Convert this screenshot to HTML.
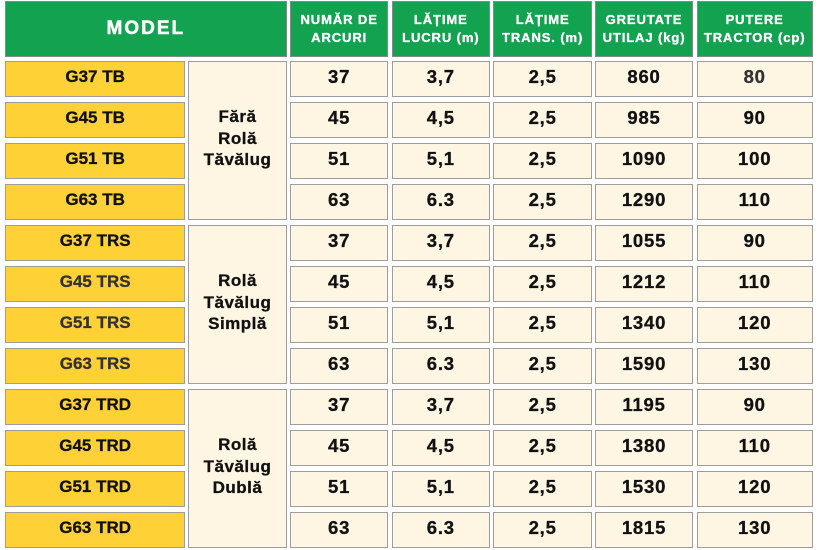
<!DOCTYPE html>
<html><head><meta charset="utf-8">
<style>
html,body{margin:0;padding:0;background:#fff;}
body{width:818px;height:550px;position:relative;overflow:hidden;font-family:"Liberation Sans",Arial,sans-serif;}
.c{position:absolute;box-sizing:border-box;border:1px solid #9d9d9d;display:flex;align-items:center;justify-content:center;text-align:center;font-weight:bold;}
.h{top:0.7px;height:56px;background:#13a24f;color:#fff;font-size:13px;letter-spacing:0.9px;line-height:17.5px;border-color:#7d8f84;-webkit-text-stroke:0.35px #fff;}
.r{position:absolute;left:0;width:818px;height:36.6px;}
.r .c{top:0;height:36.6px;font-size:17px;color:#111;background:#fef6e3;padding-bottom:3px;-webkit-text-stroke:0.3px #111;}
.r .a{left:5px;width:180.3px;background:#fed137;letter-spacing:0;}
.C{left:290px;width:98.3px;}
.D{left:391.7px;width:98.3px;}
.E{left:493.3px;width:98.7px;}
.F{left:595px;width:98px;}
.G{left:696.7px;width:116px;}
.r .n{letter-spacing:0.8px;font-size:18.5px;padding-bottom:4px;}
.r .g{color:#333;-webkit-text-stroke:0.3px #333;}
.m{left:188.3px;width:98.4px;height:159.6px;background:#fef6e3;color:#111;font-size:17px;line-height:21.5px;letter-spacing:0.5px;padding-bottom:4px;-webkit-text-stroke:0.3px #111;}
</style></head><body>

<div class="c h" style="left:5px;width:281.7px;font-size:19px;letter-spacing:2px;-webkit-text-stroke:0.5px #fff;">MODEL</div>
<div class="c h C">NUMĂR DE<br>ARCURI</div>
<div class="c h D">LĂȚIME<br>LUCRU (m)</div>
<div class="c h E">LĂȚIME<br>TRANS. (m)</div>
<div class="c h F">GREUTATE<br>UTILAJ (kg)</div>
<div class="c h G">PUTERE<br>TRACTOR (cp)</div>

<div class="c m" style="top:60.7px;">Fără<br>Rolă<br>Tăvălug</div>
<div class="c m" style="top:224.7px;">Rolă<br>Tăvălug<br>Simplă</div>
<div class="c m" style="top:388.7px;">Rolă<br>Tăvălug<br>Dublă</div>

<div class="r" style="top:60.7px"><div class="c a">G37 TB</div><div class="c n C">37</div><div class="c n D">3,7</div><div class="c n E">2,5</div><div class="c n F">860</div><div class="c n G g">80</div></div>
<div class="r" style="top:101.7px"><div class="c a">G45 TB</div><div class="c n C">45</div><div class="c n D">4,5</div><div class="c n E">2,5</div><div class="c n F">985</div><div class="c n G">90</div></div>
<div class="r" style="top:142.7px"><div class="c a">G51 TB</div><div class="c n C">51</div><div class="c n D">5,1</div><div class="c n E">2,5</div><div class="c n F">1090</div><div class="c n G">100</div></div>
<div class="r" style="top:183.7px"><div class="c a">G63 TB</div><div class="c n C">63</div><div class="c n D">6.3</div><div class="c n E">2,5</div><div class="c n F">1290</div><div class="c n G">110</div></div>
<div class="r" style="top:224.7px"><div class="c a">G37 TRS</div><div class="c n C">37</div><div class="c n D">3,7</div><div class="c n E">2,5</div><div class="c n F">1055</div><div class="c n G">90</div></div>
<div class="r" style="top:265.7px"><div class="c a g">G45 TRS</div><div class="c n C">45</div><div class="c n D">4,5</div><div class="c n E">2,5</div><div class="c n F">1212</div><div class="c n G">110</div></div>
<div class="r" style="top:306.7px"><div class="c a g">G51 TRS</div><div class="c n C">51</div><div class="c n D">5,1</div><div class="c n E">2,5</div><div class="c n F">1340</div><div class="c n G">120</div></div>
<div class="r" style="top:347.7px"><div class="c a g">G63 TRS</div><div class="c n C">63</div><div class="c n D">6.3</div><div class="c n E">2,5</div><div class="c n F">1590</div><div class="c n G">130</div></div>
<div class="r" style="top:388.7px"><div class="c a">G37 TRD</div><div class="c n C">37</div><div class="c n D">3,7</div><div class="c n E">2,5</div><div class="c n F">1195</div><div class="c n G">90</div></div>
<div class="r" style="top:429.7px"><div class="c a">G45 TRD</div><div class="c n C">45</div><div class="c n D">4,5</div><div class="c n E">2,5</div><div class="c n F">1380</div><div class="c n G">110</div></div>
<div class="r" style="top:470.7px"><div class="c a">G51 TRD</div><div class="c n C">51</div><div class="c n D">5,1</div><div class="c n E">2,5</div><div class="c n F">1530</div><div class="c n G">120</div></div>
<div class="r" style="top:511.7px"><div class="c a">G63 TRD</div><div class="c n C">63</div><div class="c n D">6.3</div><div class="c n E">2,5</div><div class="c n F">1815</div><div class="c n G">130</div></div>

</body></html>
